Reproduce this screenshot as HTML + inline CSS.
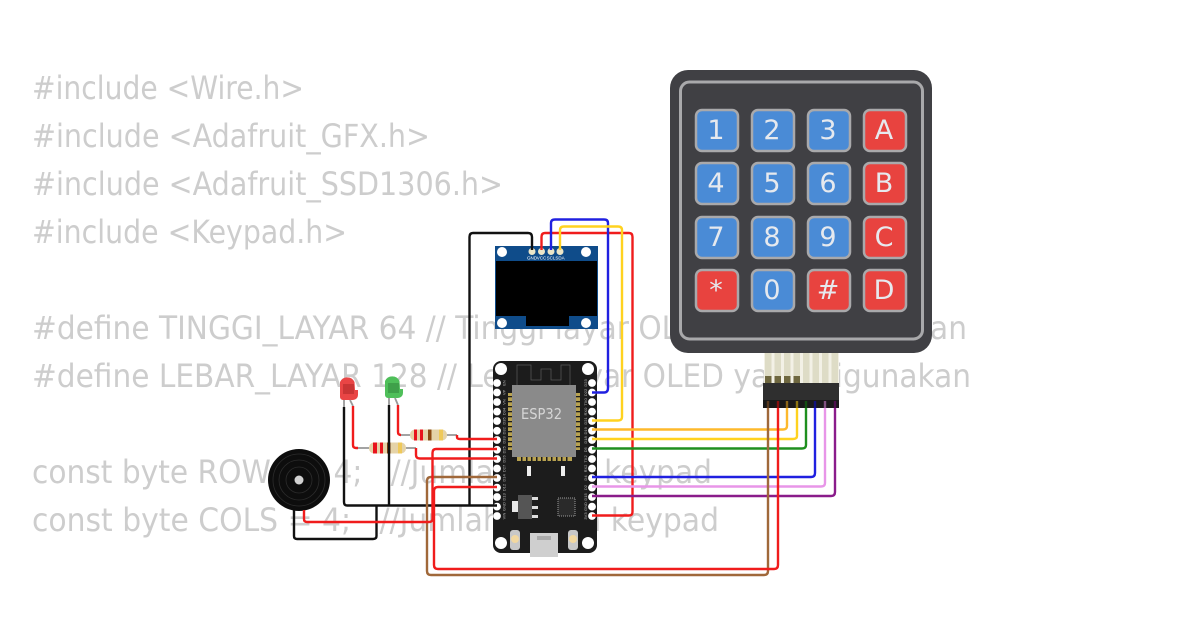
<!DOCTYPE html>
<html><head><meta charset="utf-8"><style>html,body{margin:0;padding:0;background:#fff}svg{display:block}text{white-space:pre}</style></head>
<body>
<svg width="1200" height="630" viewBox="0 0 1200 630" xmlns="http://www.w3.org/2000/svg">
<rect width="1200" height="630" fill="#fff"/>
<g font-family="'DejaVu Sans','Liberation Sans',sans-serif" font-size="32" fill="#cdcdcd">
<text x="32" y="99" textLength="272" lengthAdjust="spacingAndGlyphs">#include &lt;Wire.h&gt;</text>
<text x="32" y="147" textLength="398" lengthAdjust="spacingAndGlyphs">#include &lt;Adafruit_GFX.h&gt;</text>
<text x="32" y="195" textLength="471" lengthAdjust="spacingAndGlyphs">#include &lt;Adafruit_SSD1306.h&gt;</text>
<text x="32" y="243" textLength="315" lengthAdjust="spacingAndGlyphs">#include &lt;Keypad.h&gt;</text>
<text x="32" y="339" textLength="935" lengthAdjust="spacingAndGlyphs">#define TINGGI_LAYAR 64 // Tinggi layar OLED yang digunakan</text>
<text x="32" y="387" textLength="939" lengthAdjust="spacingAndGlyphs">#define LEBAR_LAYAR 128 // Lebar layar OLED yang digunakan</text>
<text x="32" y="483" textLength="680" lengthAdjust="spacingAndGlyphs" xml:space="preserve">const byte ROWS = 4;   //Jumlah baris keypad</text>
<text x="32" y="531" textLength="687" lengthAdjust="spacingAndGlyphs" xml:space="preserve">const byte COLS = 4;   //Jumlah kolom keypad</text>
</g>

<!-- keypad -->
<g>
<rect x="764" y="353" width="75" height="30" fill="#f3f1e6"/>
<g fill="#dedcc6">
<rect x="765" y="353" width="6.500" height="30"/><rect x="774.500" y="353" width="6.500" height="30"/><rect x="784" y="353" width="6.500" height="30"/><rect x="793.500" y="353" width="6.500" height="30"/><rect x="803" y="353" width="6.500" height="30"/><rect x="812.500" y="353" width="6.500" height="30"/><rect x="822" y="353" width="6.500" height="30"/><rect x="831.500" y="353" width="6.500" height="30"/>
</g>
<g fill="#6f6840">
<rect x="765" y="376" width="6.500" height="7"/><rect x="774.500" y="376" width="6.500" height="7"/><rect x="784" y="376" width="6.500" height="7"/><rect x="793.500" y="376" width="6.500" height="7"/>
</g>
<rect x="670" y="70" width="262" height="283" rx="18" fill="#404044"/>
<rect x="680.500" y="82" width="242" height="257" rx="9" fill="none" stroke="#a9a9ab" stroke-width="3"/>
<g stroke="#a9a9ab" stroke-width="2.500">
<rect x="696" y="110" width="42" height="41" rx="6" fill="#4a8bd6"/><rect x="752" y="110" width="42" height="41" rx="6" fill="#4a8bd6"/><rect x="808" y="110" width="42" height="41" rx="6" fill="#4a8bd6"/><rect x="864" y="110" width="42" height="41" rx="6" fill="#e8433f"/>
<rect x="696" y="163" width="42" height="41" rx="6" fill="#4a8bd6"/><rect x="752" y="163" width="42" height="41" rx="6" fill="#4a8bd6"/><rect x="808" y="163" width="42" height="41" rx="6" fill="#4a8bd6"/><rect x="864" y="163" width="42" height="41" rx="6" fill="#e8433f"/>
<rect x="696" y="217" width="42" height="41" rx="6" fill="#4a8bd6"/><rect x="752" y="217" width="42" height="41" rx="6" fill="#4a8bd6"/><rect x="808" y="217" width="42" height="41" rx="6" fill="#4a8bd6"/><rect x="864" y="217" width="42" height="41" rx="6" fill="#e8433f"/>
<rect x="696" y="270" width="42" height="41" rx="6" fill="#e8433f"/><rect x="752" y="270" width="42" height="41" rx="6" fill="#4a8bd6"/><rect x="808" y="270" width="42" height="41" rx="6" fill="#e8433f"/><rect x="864" y="270" width="42" height="41" rx="6" fill="#e8433f"/>
</g>
<g font-family="'DejaVu Sans',sans-serif" font-size="27" fill="#e6e9ee" text-anchor="middle">
<text x="716" y="139">1</text><text x="772" y="139">2</text><text x="828" y="139">3</text><text x="884" y="139">A</text>
<text x="716" y="192">4</text><text x="772" y="192">5</text><text x="828" y="192">6</text><text x="884" y="192">B</text>
<text x="716" y="246">7</text><text x="772" y="246">8</text><text x="828" y="246">9</text><text x="884" y="246">C</text>
<text x="716" y="299">*</text><text x="772" y="299">0</text><text x="828" y="299">#</text><text x="884" y="299">D</text>
</g>
<rect x="763" y="383" width="76" height="25" fill="#2f2f2f"/>
</g>

<!-- OLED -->
<rect x="495" y="246" width="103" height="83" fill="#0f4c8a"/>
<rect x="496" y="261" width="101" height="55" fill="#000"/>
<rect x="526" y="316" width="43" height="10" fill="#000"/>
<g fill="#fff"><circle cx="502" cy="252" r="5"/><circle cx="586" cy="252" r="5"/><circle cx="502" cy="323" r="5"/><circle cx="586" cy="323" r="5"/></g>
<g fill="#ece6c8"><circle cx="532" cy="251.500" r="3.500"/><circle cx="541.500" cy="251.500" r="3.500"/><circle cx="551" cy="251.500" r="3.500"/><circle cx="560" cy="251.500" r="3.500"/></g>
<g font-family="'Liberation Sans',sans-serif" font-size="4.500" fill="#fff" text-anchor="middle">
<text x="532" y="259.500">GND</text><text x="541.500" y="259.500">VCC</text><text x="551" y="259.500">SCL</text><text x="560" y="259.500">SDA</text></g>

<!-- ESP32 -->
<rect x="493" y="361" width="104" height="192" rx="8" fill="#1c1c1c"/>
<g fill="#fff"><circle cx="501" cy="369" r="6"/><circle cx="588" cy="369" r="6"/><circle cx="501" cy="543" r="6"/><circle cx="588" cy="543" r="6"/></g>
<path d="M517 385V365H531V380H541V369H551V380H561V365H570V385" fill="none" stroke="#555" stroke-width="0.800"/>
<g fill="#b8a250">
<rect x="508" y="393" width="72" height="57"/>
<rect x="517" y="455" width="55" height="6"/>
</g>
<g fill="#1c1c1c">
<rect x="508" y="396" width="72" height="1.300"/><rect x="508" y="401" width="72" height="1.300"/><rect x="508" y="406" width="72" height="1.300"/><rect x="508" y="411" width="72" height="1.300"/><rect x="508" y="416" width="72" height="1.300"/><rect x="508" y="421" width="72" height="1.300"/><rect x="508" y="426" width="72" height="1.300"/><rect x="508" y="431" width="72" height="1.300"/><rect x="508" y="436" width="72" height="1.300"/><rect x="508" y="441" width="72" height="1.300"/><rect x="508" y="446" width="72" height="1.300"/>
<rect x="521" y="455" width="1.500" height="6"/><rect x="526" y="455" width="1.500" height="6"/><rect x="531" y="455" width="1.500" height="6"/><rect x="536" y="455" width="1.500" height="6"/><rect x="541" y="455" width="1.500" height="6"/><rect x="546" y="455" width="1.500" height="6"/><rect x="551" y="455" width="1.500" height="6"/><rect x="556" y="455" width="1.500" height="6"/><rect x="561" y="455" width="1.500" height="6"/><rect x="566" y="455" width="1.500" height="6"/>
</g>
<rect x="512" y="385" width="64" height="72" fill="#8a8a8a"/>
<text x="521" y="419" font-family="'DejaVu Sans',sans-serif" font-size="15" fill="#d6d6d6" textLength="41" lengthAdjust="spacingAndGlyphs">ESP32</text>
<g fill="#eee"><rect x="527" y="466" width="4" height="10"/><rect x="561" y="466" width="4" height="10"/></g>
<rect x="518" y="495" width="14" height="24" fill="#555"/><rect x="512" y="501" width="6" height="11" fill="#e8e8e8"/>
<g fill="#ddd"><rect x="532" y="497" width="6" height="3"/><rect x="532" y="506" width="6" height="3"/><rect x="532" y="515" width="6" height="3"/></g>
<rect x="558" y="498" width="17" height="18" fill="#2a2a2a" stroke="#999" stroke-width="1" stroke-dasharray="1 1"/>
<rect x="530" y="533" width="28" height="24" fill="#cfcfcf"/>
<rect x="537" y="536" width="14" height="4" fill="#aaa"/>
<g fill="#c8c8c8"><rect x="510" y="530" width="10" height="20" rx="3"/><rect x="568" y="530" width="10" height="20" rx="3"/></g>
<g fill="#f2d8a0"><circle cx="515" cy="539" r="4"/><circle cx="573" cy="539" r="4"/></g>
<g fill="#fff">
<circle cx="497" cy="383" r="3.900"/><circle cx="497" cy="392.500" r="3.900"/><circle cx="497" cy="402" r="3.900"/><circle cx="497" cy="411.600" r="3.900"/><circle cx="497" cy="421" r="3.900"/><circle cx="497" cy="430.800" r="3.900"/><circle cx="497" cy="440" r="3.900"/><circle cx="497" cy="449.800" r="3.900"/><circle cx="497" cy="459" r="3.900"/><circle cx="497" cy="468.500" r="3.900"/><circle cx="497" cy="478" r="3.900"/><circle cx="497" cy="487.600" r="3.900"/><circle cx="497" cy="497" r="3.900"/><circle cx="497" cy="506.600" r="3.900"/><circle cx="497" cy="516" r="3.900"/>
<circle cx="592" cy="383" r="3.900"/><circle cx="592" cy="392.500" r="3.900"/><circle cx="592" cy="402" r="3.900"/><circle cx="592" cy="411.600" r="3.900"/><circle cx="592" cy="421" r="3.900"/><circle cx="592" cy="430.800" r="3.900"/><circle cx="592" cy="440" r="3.900"/><circle cx="592" cy="449.800" r="3.900"/><circle cx="592" cy="459" r="3.900"/><circle cx="592" cy="468.500" r="3.900"/><circle cx="592" cy="478" r="3.900"/><circle cx="592" cy="487.600" r="3.900"/><circle cx="592" cy="497" r="3.900"/><circle cx="592" cy="506.600" r="3.900"/><circle cx="592" cy="516" r="3.900"/>
</g>
<g font-family="'Liberation Sans',sans-serif" font-size="4" fill="#bbb" text-anchor="middle">
<text transform="translate(505.500,383) rotate(-90)">EN</text><text transform="translate(505.500,392.500) rotate(-90)">VP</text><text transform="translate(505.500,402) rotate(-90)">VN</text><text transform="translate(505.500,411.600) rotate(-90)">D34</text><text transform="translate(505.500,421) rotate(-90)">D35</text><text transform="translate(505.500,430.800) rotate(-90)">D32</text><text transform="translate(505.500,440) rotate(-90)">D33</text><text transform="translate(505.500,449.800) rotate(-90)">D25</text><text transform="translate(505.500,459) rotate(-90)">D26</text><text transform="translate(505.500,468.500) rotate(-90)">D27</text><text transform="translate(505.500,478) rotate(-90)">D14</text><text transform="translate(505.500,487.600) rotate(-90)">D12</text><text transform="translate(505.500,497) rotate(-90)">D13</text><text transform="translate(505.500,506.600) rotate(-90)">GND</text><text transform="translate(505.500,516) rotate(-90)">VIN</text>
<text transform="translate(587,383) rotate(-90)">D23</text><text transform="translate(587,392.500) rotate(-90)">D22</text><text transform="translate(587,402) rotate(-90)">TX0</text><text transform="translate(587,411.600) rotate(-90)">RX0</text><text transform="translate(587,421) rotate(-90)">D21</text><text transform="translate(587,430.800) rotate(-90)">D19</text><text transform="translate(587,440) rotate(-90)">D18</text><text transform="translate(587,449.800) rotate(-90)">D5</text><text transform="translate(587,459) rotate(-90)">TX2</text><text transform="translate(587,468.500) rotate(-90)">RX2</text><text transform="translate(587,478) rotate(-90)">D4</text><text transform="translate(587,487.600) rotate(-90)">D2</text><text transform="translate(587,497) rotate(-90)">D15</text><text transform="translate(587,506.600) rotate(-90)">GND</text><text transform="translate(587,516) rotate(-90)">3V3</text>
</g>

<!-- buzzer -->
<circle cx="299" cy="480" r="31" fill="#0d0d0d"/>
<g fill="none" stroke="#2c2c2c" stroke-width="0.800"><circle cx="299" cy="480" r="26"/><circle cx="299" cy="480" r="20"/><circle cx="299" cy="480" r="13"/></g>
<circle cx="299" cy="480" r="4.500" fill="#d2d2d2"/>

<!-- LEDs -->
<path d="M340 382a8 8 0 0 1 14.500 0l.5 8h3v5a5 5 0 0 1-5 5H343a3 3 0 0 1-3-3z" fill="#e94545"/>
<rect x="343" y="384" width="11" height="10" fill="#c93535"/>
<path d="M385 381a8 8 0 0 1 14.500 0l.5 8h3v4a5 5 0 0 1-5 5H388a3 3 0 0 1-3-3z" fill="#4fbf5a"/>
<rect x="388" y="383" width="11" height="10" fill="#3fa04a"/>
<g fill="none" stroke="#999" stroke-width="1.800">
<path d="M344 400v7"/><path d="M350 400l3 6"/><path d="M389 398v7"/><path d="M395 398l3 7"/>
<path d="M358 448H369"/><path d="M406 448H416"/><path d="M400 435H410"/><path d="M447 435H457"/>
</g>
<!-- resistors -->
<rect x="369" y="442.500" width="37" height="11" rx="5" fill="#e5d3a8"/>
<g fill="#e8141c"><rect x="373" y="442.500" width="4" height="11"/><rect x="380" y="442.500" width="3" height="11"/></g><rect x="387" y="442.500" width="3.500" height="11" fill="#8a4a12"/><rect x="398" y="442.500" width="4" height="11" fill="#efc95a"/>
<rect x="410" y="429.500" width="37" height="11" rx="5" fill="#e5d3a8"/>
<g fill="#e8141c"><rect x="414" y="429.500" width="3" height="11"/><rect x="420" y="429.500" width="3" height="11"/></g><rect x="428" y="429.500" width="3.500" height="11" fill="#8a4a12"/><rect x="439" y="429.500" width="4" height="11" fill="#efc95a"/>

<!-- wires -->
<g fill="none" stroke-width="2.400" stroke-linejoin="round">
<path d="M532 250V237Q532 233 528 233H473Q469.500 233 469.500 237V505" stroke="#111"/>
<path d="M497 505.500H347Q344 505.500 344 502V407" stroke="#111"/>
<path d="M389 505V405" stroke="#111"/>
<path d="M376.500 505V536Q376.500 539 373 539H297Q294 539 294 536V510" stroke="#111"/>
<path d="M541.500 250V237Q541.500 233 545 233H629Q632.500 233 632.500 237V512Q632.500 515.500 629 515.500H592" stroke="#f01c1c"/>
<path d="M551 250V223Q551 219.500 555 219.500H604Q608 219.500 608 223V388Q608 392.500 604 392.500H592" stroke="#2020e0"/>
<path d="M560 250V230Q560 226.500 564 226.500H618Q622 226.500 622 230V417Q622 420.500 618 420.500H592" stroke="#ffd21f"/>
<path d="M787 401V426Q787 429.500 783 429.500H592" stroke="#fdb92c"/>
<path d="M797 401V436Q797 439 793 439H592" stroke="#ffd21f"/>
<path d="M806 401V445Q806 448.500 802 448.500H592" stroke="#1f8f1f"/>
<path d="M815 401V473Q815 477 811 477H592" stroke="#2020e0"/>
<path d="M825 401V483Q825 486.500 821 486.500H592" stroke="#e896e8"/>
<path d="M835 401V492Q835 496 831 496H592" stroke="#8a1c8a"/>
<path d="M768 401V571Q768 575 764 575H431Q427 575 427 571V481Q427 477 431 477H497" stroke="#a0683a"/>
<path d="M778 401V565Q778 569 774 569H438Q434 569 434 565V491Q434 487 438 487H497" stroke="#f01c1c"/>
<path d="M304 510V519Q304 522 307 522H429Q432.500 522 432.500 519V453Q432.500 449 436 449H497" stroke="#f01c1c"/>
<path d="M353 406V445Q353 448 356 448H358" stroke="#f01c1c"/>
<path d="M398 405V432Q398 435 401 435" stroke="#f01c1c"/>
<path d="M416 448V455Q416 458.500 420 458.500H497" stroke="#f01c1c"/>
<path d="M457 435V437Q457 439 460 439H497" stroke="#f01c1c"/>
</g>
<rect x="763" y="400" width="76" height="8" fill="#000" opacity="0.450"/>
</svg>
</body></html>
